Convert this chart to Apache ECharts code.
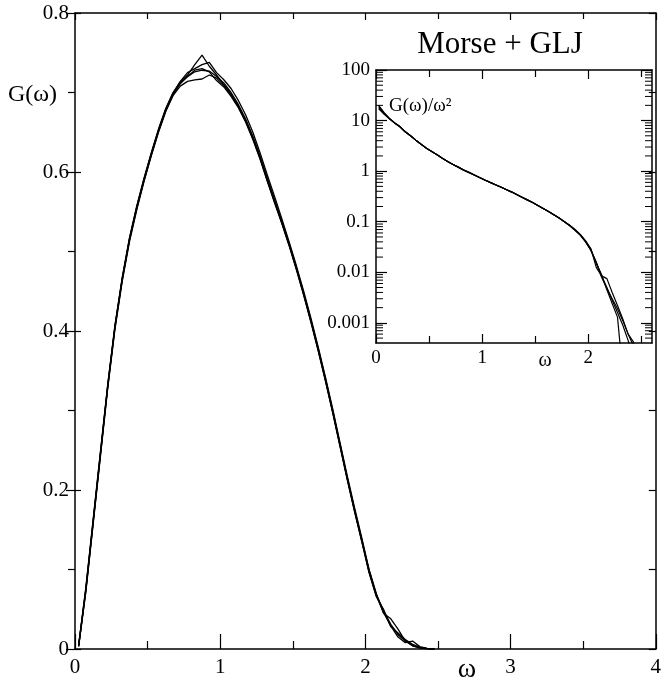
<!DOCTYPE html>
<html><head><meta charset="utf-8">
<script src="https://cdn.jsdelivr.net/npm/echarts@6/dist/echarts.min.js"></script>
<style>html,body{margin:0;padding:0;background:#fff}#c{width:664px;height:681px}</style>
</head><body><div id="c"></div>
<script>
// ---- data ----
const omega = [0.025,0.075,0.125,0.175,0.225,0.275,0.325,0.375,0.425,0.475,
  0.525,0.575,0.625,0.675,0.725,0.775,0.825,0.875,0.925,0.975,
  1.025,1.075,1.125,1.175,1.225,1.275,1.325,1.375,1.425,1.475,
  1.525,1.575,1.625,1.675,1.725,1.775,1.825,1.875,1.925,1.975,
  2.025,2.075,2.125,2.175,2.225,2.275,2.325,2.375,2.425,2.475];

// main panel: G(omega), several runs
const gRunA = [0.004,0.075,0.16,0.245,0.33,0.405,0.465,0.515,0.555,0.59,
  0.622,0.652,0.678,0.698,0.712,0.72,0.726,0.728,0.727,0.72,
  0.712,0.70,0.685,0.667,0.645,0.62,0.592,0.565,0.538,0.51,
  0.48,0.448,0.414,0.378,0.34,0.30,0.258,0.216,0.176,0.138,
  0.098,0.068,0.047,0.030,0.019,0.011,0.005,0.002,0.0005,0];
const gRunB = [0.005,0.078,0.163,0.248,0.332,0.407,0.467,0.517,0.557,0.592,
  0.624,0.654,0.68,0.70,0.713,0.722,0.735,0.747,0.733,0.722,
  0.71,0.698,0.683,0.665,0.643,0.618,0.59,0.563,0.536,0.508,
  0.478,0.446,0.412,0.376,0.338,0.298,0.256,0.214,0.174,0.136,
  0.096,0.066,0.05,0.028,0.02,0.012,0.006,0.002,0.0004,0];
const gRunC = [0.003,0.072,0.157,0.242,0.327,0.402,0.462,0.512,0.552,0.588,
  0.62,0.65,0.676,0.696,0.708,0.714,0.716,0.717,0.722,0.718,
  0.709,0.697,0.682,0.664,0.642,0.617,0.589,0.562,0.536,0.509,
  0.479,0.447,0.413,0.377,0.339,0.299,0.257,0.215,0.175,0.137,
  0.1,0.07,0.045,0.038,0.025,0.01,0.004,0.0015,0.0003,0];
const gRunD = [0.004,0.076,0.161,0.246,0.331,0.406,0.466,0.516,0.556,0.591,
  0.623,0.653,0.679,0.699,0.714,0.725,0.73,0.735,0.738,0.725,
  0.716,0.705,0.69,0.672,0.65,0.624,0.596,0.569,0.541,0.512,
  0.482,0.45,0.416,0.38,0.342,0.302,0.26,0.218,0.178,0.14,
  0.1,0.069,0.048,0.031,0.018,0.01,0.004,0.0015,0.0004,0];
const gRunE = [0.004,0.074,0.159,0.244,0.329,0.404,0.464,0.514,0.554,0.589,
  0.621,0.651,0.677,0.697,0.711,0.72,0.728,0.73,0.726,0.715,
  0.707,0.695,0.681,0.663,0.641,0.616,0.588,0.561,0.535,0.507,
  0.477,0.445,0.411,0.375,0.337,0.297,0.255,0.213,0.173,0.135,
  0.097,0.067,0.046,0.029,0.015,0.008,0.01,0.003,0.0008,0];

// inset: G(omega)/omega^2, several runs (log scale)
const rRunA = [19,14,11,9,7.6,6.0,5.0,4.1,3.4,2.85,
  2.45,2.1,1.8,1.55,1.35,1.2,1.05,0.94,0.84,0.75,
  0.67,0.6,0.54,0.485,0.435,0.39,0.345,0.305,0.27,0.24,
  0.21,0.183,0.16,0.138,0.118,0.1,0.084,0.069,0.055,0.041,
  0.028,0.0155,0.0085,0.005,0.0028,0.0016,0.0009,0.00045,0.0002,0.0001];
const rRunB = [17,13.5,10.8,8.9,7.5,6.0,5.0,4.1,3.4,2.85,
  2.45,2.1,1.8,1.55,1.35,1.2,1.06,0.96,0.85,0.75,
  0.67,0.6,0.54,0.485,0.435,0.39,0.345,0.305,0.27,0.24,
  0.21,0.183,0.16,0.138,0.118,0.1,0.084,0.068,0.054,0.04,
  0.027,0.015,0.009,0.0045,0.0024,0.0013,0.0001,0.0001,0.0001,0.0001];
const rRunC = [20,14.5,11.2,9.1,7.6,6.0,5.0,4.1,3.4,2.85,
  2.45,2.1,1.8,1.55,1.35,1.2,1.04,0.93,0.84,0.75,
  0.67,0.6,0.54,0.485,0.435,0.39,0.345,0.305,0.27,0.24,
  0.21,0.183,0.16,0.138,0.118,0.1,0.085,0.07,0.056,0.042,
  0.029,0.0125,0.0085,0.0075,0.004,0.0022,0.0012,0.0006,0.00035,0.0001];
const rRunD = [18,13.8,11,9,7.6,6.0,5.0,4.1,3.4,2.85,
  2.45,2.1,1.8,1.55,1.35,1.2,1.05,0.94,0.84,0.75,
  0.67,0.6,0.54,0.485,0.435,0.39,0.345,0.305,0.27,0.24,
  0.21,0.183,0.16,0.138,0.118,0.1,0.083,0.068,0.055,0.04,
  0.027,0.016,0.008,0.0048,0.003,0.0019,0.0011,0.0006,0.00042,0.0001];

// tick labels / tick values
const mainXTicks = [0,1,2,3,4];
const mainYTicks = [0,0.2,0.4,0.6,0.8];
const insetXTicks = [0,1,2];
const insetYTicks = [0.001,0.01,0.1,1,10,100];
const insetMinorTicks = [0.0005,0.0006,0.0007,0.0008,0.0009,
  0.002,0.003,0.004,0.005,0.006,0.007,0.008,0.009,
  0.02,0.03,0.04,0.05,0.06,0.07,0.08,0.09,
  0.2,0.3,0.4,0.5,0.6,0.7,0.8,0.9,
  2,3,4,5,6,7,8,9,
  20,30,40,50,60,70,80,90];

// ---- chart ----
const FONT = '"Liberation Serif","DejaVu Serif",serif';
const BLACK = '#000';
const zip = (ys) => omega.map((x, i) => [x, ys[i]]);

function lineSeries(ys, xi, yi, w) {
  return {type:'line', xAxisIndex:xi, yAxisIndex:yi, data:zip(ys), showSymbol:false,
    symbol:'none', lineStyle:{color:BLACK, width:w}, silent:true, animation:false, clip:true, z:3};
}

const mainXmin = mainXTicks[0], mainXmax = mainXTicks[mainXTicks.length-1];
const mainYmin = mainYTicks[0], mainYmax = mainYTicks[mainYTicks.length-1];

function mainX(pos, labels, major, minor) {
  return {type:'value', gridIndex:0, position:pos, min:mainXmin, max:mainXmax, interval:1,
    axisLine:{show:true, onZero:false, lineStyle:{color:BLACK, width:1.5}},
    axisTick:{show:true, inside:true, length:major, lineStyle:{color:BLACK, width:1.2}},
    minorTick:{show:true, splitNumber:2, length:minor, lineStyle:{color:BLACK, width:1.2}},
    axisLabel:{show:labels, margin:8, color:BLACK, fontFamily:FONT, fontSize:21,
      showMaxLabel:true},
    splitLine:{show:false}};
}
function mainY(pos, labels, inside, major, minor, showLine) {
  return {type:'value', gridIndex:0, position:pos, min:mainYmin, max:mainYmax, interval:0.2,
    axisLine:{show:showLine, onZero:false, lineStyle:{color:BLACK, width:1.5}},
    axisTick:{show:true, inside:inside, length:major, lineStyle:{color:BLACK, width:1.2}},
    minorTick:{show:minor > 0, splitNumber:2, length:minor, lineStyle:{color:BLACK, width:1.2}},
    axisLabel:{show:labels, margin:6, color:BLACK, fontFamily:FONT, fontSize:21},
    splitLine:{show:false}};
}
function insetX(pos, labels) {
  return {type:'value', gridIndex:1, position:pos, min:0, max:2.6, interval:1,
    axisLine:{show:true, onZero:false, lineStyle:{color:BLACK, width:1.5}},
    axisTick:{show:true, inside:true, length:9, lineStyle:{color:BLACK, width:1.2},
      customValues: insetXTicks},
    minorTick:{show:true, splitNumber:2, length:7, lineStyle:{color:BLACK, width:1.2}},
    axisLabel:{show:labels, margin:6, color:BLACK, fontFamily:FONT, fontSize:19,
      customValues: insetXTicks},
    splitLine:{show:false}};
}
function insetY(pos, labels) {
  return {type:'log', gridIndex:1, position:pos, logBase:10, min:0.0004, max:100,
    axisLine:{show:true, onZero:false, lineStyle:{color:BLACK, width:1.5}},
    axisTick:{show:true, inside:true, length:11, lineStyle:{color:BLACK, width:1.2},
      customValues: insetYTicks},
    axisLabel:{show:labels, margin:6, color:BLACK, fontFamily:FONT, fontSize:19,
      customValues: insetYTicks,
      formatter: v => String(+(+v).toPrecision(3))},
    splitLine:{show:false}};
}

const minorTickSeries = {
  type:'custom', xAxisIndex:2, yAxisIndex:2, silent:true, animation:false, z:4, clip:false,
  data: insetMinorTicks.map(v => [0, v]),
  renderItem: function(params, api) {
    const p = api.coord([0, api.value(1)]);
    const q = api.coord([2.6, api.value(1)]);
    return {type:'group', children:[
      {type:'line', shape:{x1:p[0], y1:p[1], x2:p[0]+7, y2:p[1]}, style:{stroke:BLACK, lineWidth:1}},
      {type:'line', shape:{x1:q[0], y1:q[1], x2:q[0]-7, y2:q[1]}, style:{stroke:BLACK, lineWidth:1}}
    ]};
  }
};

const option = {
  animation:false,
  backgroundColor:'#fff',
  grid:[
    {left:75, top:13, width:587, height:636, containLabel:false},
    {left:376, top:70, width:276, height:273, containLabel:false, show:true, backgroundColor:'#fff', borderWidth:0}
  ],
  xAxis:[mainX('bottom', true, 15, 8), mainX('top', false, 7, 6), insetX('bottom', true), insetX('top', false)],
  yAxis:[
    mainY('left', true, false, 9, 7, true),
    mainY('right', false, true, 7, 7, true),
    insetY('left', true), insetY('right', false),
    mainY('left', false, true, 6, 0, false)
  ],
  series:[
    lineSeries(gRunA,0,0,1.3), lineSeries(gRunB,0,0,1.3), lineSeries(gRunC,0,0,1.3), lineSeries(gRunD,0,0,1.3), lineSeries(gRunE,0,0,1.3),
    lineSeries(rRunA,2,2,1.2), lineSeries(rRunB,2,2,1.2), lineSeries(rRunC,2,2,1.2), lineSeries(rRunD,2,2,1.2),
    minorTickSeries
  ],
  graphic:[
    {type:'text', left:8, top:83, style:{text:'G(ω)', font:'24px ' + FONT, fill:BLACK}},
    {type:'text', x:467, y:670, style:{text:'ω', font:'28px ' + FONT, fill:BLACK, align:'center', verticalAlign:'middle'}},
    {type:'text', x:500, y:45, style:{text:'Morse + GLJ', font:'31px ' + FONT, fill:BLACK, align:'center', verticalAlign:'middle'}},
    {type:'text', x:389, y:106, style:{text:'G(ω)/ω²', font:'19px ' + FONT, fill:BLACK, verticalAlign:'middle'}},
    {type:'text', x:545, y:361, style:{text:'ω', font:'20px ' + FONT, fill:BLACK, align:'center', verticalAlign:'middle'}}
  ]
};

const chart = echarts.init(document.getElementById('c'), null, {renderer:'canvas'});
chart.setOption(option);
</script>
</body></html>
